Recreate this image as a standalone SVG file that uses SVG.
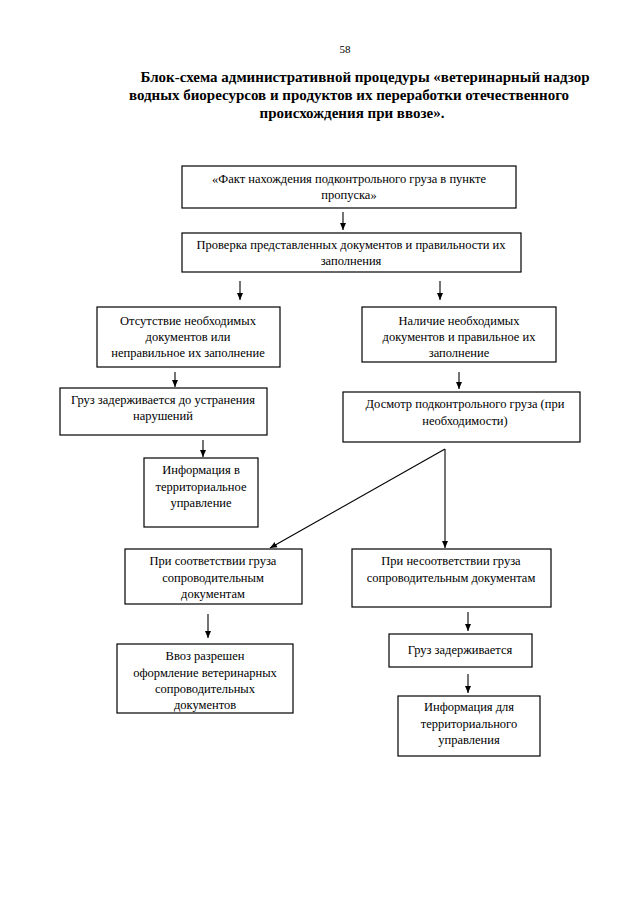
<svg xmlns="http://www.w3.org/2000/svg" width="640" height="905" viewBox="0 0 640 905">
<defs>
<marker id="ah" markerWidth="8" markerHeight="8" refX="7" refY="4" orient="auto" markerUnits="userSpaceOnUse">
<path d="M0,1 L7,4 L0,7 Z" fill="#000"/>
</marker>
<style>
.box{fill:#fff;stroke:#000;stroke-width:1.2}
.t{font-family:"Liberation Serif","Times New Roman",serif;font-size:12.5px;text-anchor:middle;fill:#000}
.h{font-family:"Liberation Serif","Times New Roman",serif;font-size:15px;font-weight:bold;text-anchor:middle;fill:#000}
.c{stroke:#000;stroke-width:1.1;fill:none;marker-end:url(#ah)}
</style>
</defs>
<rect width="640" height="905" fill="#fff"/>
<text x="345" y="53" class="t" style="font-size:11px">58</text>
<text x="365" y="82" class="h">Блок-схема административной процедуры «ветеринарный надзор</text>
<text x="349" y="100" class="h">водных биоресурсов и продуктов их переработки отечественного</text>
<text x="352" y="118" class="h">происхождения при ввозе».</text>

<g id="connectors">
<line x1="343" y1="212" x2="343" y2="230" class="c"/>
<line x1="240" y1="281" x2="240" y2="300" class="c"/>
<line x1="440" y1="281" x2="440" y2="300" class="c"/>
<line x1="175" y1="372" x2="175" y2="387" class="c"/>
<line x1="459" y1="372" x2="459" y2="389" class="c"/>
<line x1="203" y1="440" x2="203" y2="457" class="c"/>
<line x1="445" y1="449" x2="270" y2="548" class="c"/>
<line x1="445" y1="449" x2="445" y2="548" class="c"/>
<line x1="208" y1="614" x2="208" y2="638" class="c"/>
<line x1="468" y1="612" x2="468" y2="631" class="c"/>
<line x1="468" y1="674" x2="468" y2="693" class="c"/>
</g>

<g id="n1"><rect x="182" y="166" width="334" height="42" class="box"/>
<text x="349" y="183" class="t">«Факт нахождения подконтрольного груза в пункте</text>
<text x="349" y="199" class="t">пропуска»</text></g>

<g id="n2"><rect x="182" y="233" width="339" height="39" class="box"/>
<text x="351" y="249" class="t">Проверка представленных документов и правильности их</text>
<text x="351" y="265" class="t">заполнения</text></g>

<g id="n3"><rect x="97" y="307" width="183" height="60" class="box"/>
<text x="188" y="325" class="t">Отсутствие необходимых</text>
<text x="188" y="341" class="t">документов или</text>
<text x="188" y="357" class="t">неправильное их заполнение</text></g>

<g id="n4"><rect x="362" y="307" width="194" height="55" class="box"/>
<text x="459" y="325" class="t">Наличие необходимых</text>
<text x="459" y="341" class="t">документов и правильное их</text>
<text x="459" y="357" class="t">заполнение</text></g>

<g id="n5"><rect x="60" y="388" width="207" height="47" class="box"/>
<text x="163" y="404" class="t">Груз задерживается до устранения</text>
<text x="163" y="420" class="t">нарушений</text></g>

<g id="n6"><rect x="343" y="392" width="237" height="50" class="box"/>
<text x="465" y="408" class="t">Досмотр подконтрольного груза (при</text>
<text x="465" y="425" class="t">необходимости)</text></g>

<g id="n7"><rect x="144" y="458" width="114" height="69" class="box"/>
<text x="201" y="474" class="t">Информация  в</text>
<text x="201" y="491" class="t">территориальное</text>
<text x="201" y="507" class="t">управление</text></g>

<g id="n8"><rect x="125" y="549" width="177" height="55" class="box"/>
<text x="213" y="565" class="t">При соответствии груза</text>
<text x="213" y="582" class="t">сопроводительным</text>
<text x="213" y="598" class="t">документам</text></g>

<g id="n9"><rect x="352" y="549" width="199" height="58" class="box"/>
<text x="451" y="565" class="t">При несоответствии груза</text>
<text x="451" y="582" class="t">сопроводительным документам</text></g>

<g id="n10"><rect x="117" y="644" width="176" height="69" class="box"/>
<text x="205" y="660" class="t">Ввоз разрешен</text>
<text x="205" y="677" class="t">оформление ветеринарных</text>
<text x="205" y="693" class="t">сопроводительных</text>
<text x="205" y="709" class="t">документов</text></g>

<g id="n11"><rect x="389" y="634" width="143" height="33" class="box"/>
<text x="460" y="654" class="t">Груз задерживается</text></g>

<g id="n12"><rect x="398" y="696" width="142" height="60" class="box"/>
<text x="469" y="711" class="t">Информация  для</text>
<text x="469" y="728" class="t">территориального</text>
<text x="469" y="744" class="t">управления</text></g>
</svg>
